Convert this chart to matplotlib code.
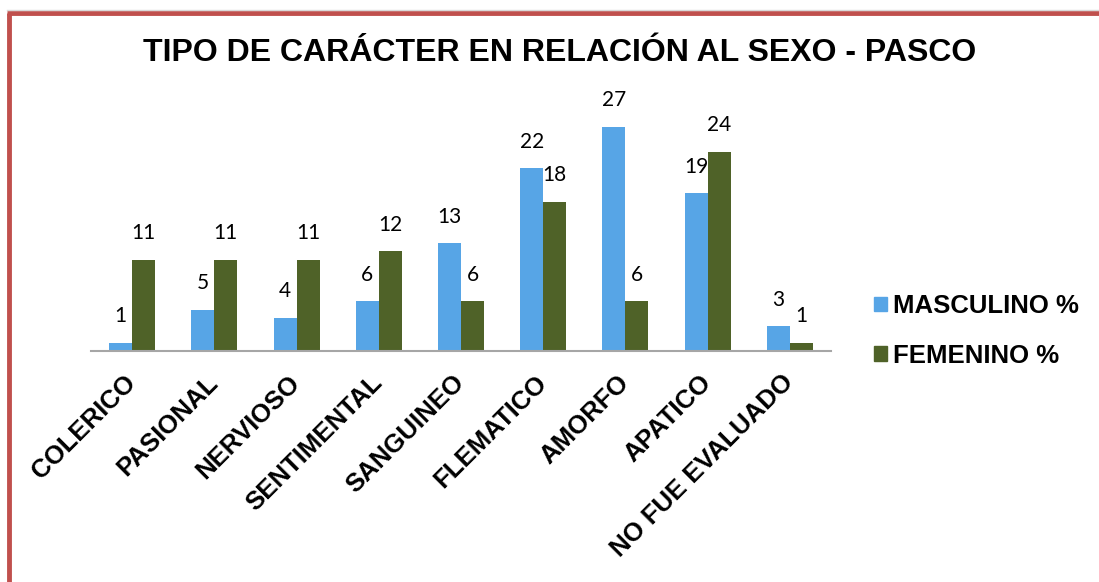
import numpy as np
import matplotlib.pyplot as plt
from matplotlib.patches import Rectangle
from matplotlib.lines import Line2D

categorias = ['COLERICO', 'PASIONAL', 'NERVIOSO', 'SENTIMENTAL', 'SANGUINEO',
              'FLEMATICO', 'AMORFO', 'APATICO', 'NO FUE EVALUADO']
masculino = [1, 5, 4, 6, 13, 22, 27, 19, 3]
femenino = [11, 11, 11, 12, 6, 18, 6, 24, 1]

plt.rcParams['font.family'] = ['Liberation Sans', 'DejaVu Sans']

W, H = 1099, 582
fig = plt.figure(figsize=(W / 100, H / 100), dpi=100)

# axes placed in pixel terms: x 91..831, baseline at y=351
left, right, bottom, top = 91, 831, 351, 102
ax = fig.add_axes([left / W, 1 - bottom / H, (right - left) / W, (bottom - top) / H])

x = np.arange(len(categorias))
w = 0.28
azul = '#57A5E6'
verde = '#4F6228'
ax.bar(x - w / 2, masculino, w, color=azul, label='MASCULINO %')
ax.bar(x + w / 2, femenino, w, color=verde, label='FEMENINO %')

for i in range(len(categorias)):
    ax.text(x[i] - w / 2, masculino[i] + 3.2, str(masculino[i]), ha='center', va='center',
            fontsize=15, family='Lato')
    ax.text(x[i] + w / 2, femenino[i] + 3.2, str(femenino[i]), ha='center', va='center',
            fontsize=15, family='Lato')

ax.set_xlim(-0.5, len(categorias) - 0.5)
ax.set_ylim(0, 30)
for s in ['top', 'right', 'left']:
    ax.spines[s].set_visible(False)
ax.spines['bottom'].set_color('#A6A6A6')
ax.spines['bottom'].set_linewidth(1.5)
ax.set_yticks([])
ax.set_xticks(x)
ax.set_xticklabels(categorias, rotation=45, ha='right', va='center', rotation_mode='anchor',
                   fontsize=18.5, fontweight='bold')
ax.tick_params(axis='x', length=0, pad=20)

fig.text(560 / W, 1 - 53 / H, 'TIPO DE CARÁCTER EN RELACIÓN AL SEXO - PASCO',
         ha='center', va='center', fontsize=23, fontweight='bold')

handles = [Rectangle((0, 0), 1, 1, color=azul), Rectangle((0, 0), 1, 1, color=verde)]
fig.legend(handles, ['MASCULINO %', 'FEMENINO %'], loc='center left',
           bbox_to_anchor=(851 / W, 1 - 331 / H), frameon=False,
           prop={'size': 18.5, 'weight': 'bold'}, handlelength=0.5, handleheight=0.5,
           handletextpad=0.25, labelspacing=1.0)

# red frame along top and left edge
fig.add_artist(Line2D([8.5 / W, 8.5 / W], [0, 1 - 13 / H], transform=fig.transFigure,
                      color='#C0504D', linewidth=3.5, solid_capstyle='butt'))
fig.add_artist(Line2D([7 / W, 1], [1 - 13 / H, 1 - 13 / H], transform=fig.transFigure,
                      color='#C0504D', linewidth=3.5, solid_capstyle='butt'))
fig.add_artist(Line2D([7 / W, 1], [1 - 10 / H, 1 - 10 / H], transform=fig.transFigure,
                      color='#D9D9D9', linewidth=1))

fig.savefig('out.png', dpi=100)
